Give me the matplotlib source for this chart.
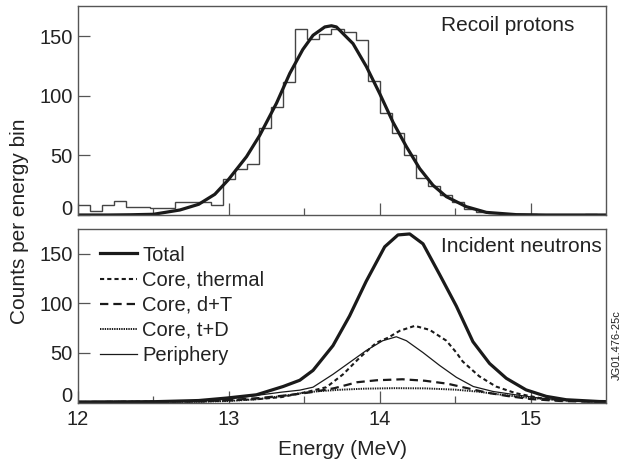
import numpy as np
import matplotlib
matplotlib.use("Agg")
import matplotlib.pyplot as plt

plt.rcParams['font.family'] = ['Liberation Sans', 'DejaVu Sans']
plt.rcParams['lines.scale_dashes'] = False

# ---------------- data ----------------
# Top panel: recoil proton histogram (bin width 0.08 MeV starting at 12.0 MeV)
hist_start = 12.0
hist_width = 0.08
hist_counts = [8.4, 3.6, 8.4, 11.8, 7, 7, 5.6, 5.6, 10.7, 10.7, 10.7, 8.4,
               30, 39, 42.6, 73.4, 91, 112, 156, 148, 152, 156, 153.5, 147,
               112.6, 86, 68.6, 50, 31, 24, 16.5, 10.7, 5, 2.5, 1.4, 1,
               0.7, 0.7, 0.4, 0.4, 0.2, 0.2, 0.5, 0.3]

fit_E = [12.0, 12.2, 12.35, 12.5, 12.675, 12.8, 12.907, 12.995, 13.117, 13.205,
         13.316, 13.404, 13.49, 13.558, 13.636, 13.68, 13.713, 13.823, 13.912,
         14.0, 14.088, 14.177, 14.265, 14.353, 14.442, 14.574, 14.707, 14.905,
         15.1, 15.5]
fit_v = [0, 0, 0.2, 0.6, 4.2, 9, 17.4, 29.4, 49, 67,
         94, 119, 139, 151, 158, 159, 158, 144, 124.6,
         102, 78, 57.4, 39, 25, 15.4, 7, 2.2, 0.3,
         0, 0]

# Bottom panel: incident neutron components
total_E = [12.0, 12.5, 12.8, 12.985, 13.183, 13.36, 13.47, 13.558, 13.69, 13.80,
           13.91, 14.033, 14.121, 14.199, 14.287, 14.397, 14.508, 14.618, 14.728,
           14.839, 14.97, 15.104, 15.236, 15.457, 15.5]
total_v = [0, 0.3, 1.5, 4, 7.3, 15.7, 22, 32, 57, 87,
           122, 157, 169, 170, 160, 129, 97, 61, 39,
           24, 12.3, 5.7, 2.3, 0.5, 0.4]

thermal_E = [12.0, 12.8, 13.0, 13.2, 13.35, 13.514, 13.647, 13.757, 13.868, 13.978,
             14.055, 14.132, 14.232, 14.331, 14.442, 14.508, 14.55, 14.66, 14.77,
             14.9, 15.06, 15.24, 15.4, 15.5]
thermal_v = [0, 0.5, 1.5, 3, 5, 10, 15, 28, 45, 60,
             65, 72, 77, 73, 62, 50, 41, 26, 15.7,
             9, 4, 1.7, 0.5, 0.3]

dT_E = [12.0, 12.8, 13.0, 13.2, 13.4, 13.55, 13.7, 13.85, 13.98, 14.15, 14.3,
        14.45, 14.58, 14.71, 14.85, 15.0, 15.2, 15.4, 15.5]
dT_v = [0, 0.5, 2, 4, 7, 10, 14, 20, 22, 23, 21.5,
        18.5, 14, 9.5, 6, 3, 1, 0.3, 0.2]

tD_E = [12.0, 12.8, 13.0, 13.2, 13.4, 13.5, 13.6, 13.75, 13.9, 14.1, 14.3,
        14.5, 14.65, 14.8, 15.0, 15.2, 15.4, 15.5]
tD_v = [0, 0.3, 1, 3, 7, 9.5, 11, 12.5, 13.5, 14, 13.8,
        12.5, 10.5, 7.5, 4, 1.7, 0.5, 0.3]

periph_E = [12.0, 12.8, 13.0, 13.1, 13.2, 13.35, 13.47, 13.558, 13.69, 13.80, 13.91,
            14.02, 14.11, 14.177, 14.287, 14.397, 14.508, 14.62, 14.75, 14.9,
            15.06, 15.24, 15.45, 15.5]
periph_v = [0, 1, 3, 5, 7, 10, 12, 15, 28, 40, 52,
            62, 66, 62, 50, 37, 25, 15.7, 10.7, 7.3,
            4, 1.7, 0.5, 0.4]

xticks = [12, 13, 14, 15]
yticks = [0, 50, 100, 150]
legend_labels = ['Total', 'Core, thermal', 'Core, d+T', 'Core, t+D', 'Periphery']

# ---------------- figure ----------------
W, H = 625, 469
fig = plt.figure(figsize=(W / 100, H / 100), dpi=100)
left, right = 78 / W, 606 / W
ax1 = fig.add_axes([left, 1 - 215 / H, right - left, (215 - 6) / H])
ax2 = fig.add_axes([left, 1 - 403 / H, right - left, (403 - 229) / H])

spine_col = '#555555'
text_col = '#222222'
fs = 14.5

edges = hist_start + hist_width * np.arange(len(hist_counts) + 1)
ax1.stairs(hist_counts, edges, baseline=None, color='#444444', lw=1.0)
ax1.plot(fit_E, fit_v, color='#1a1a1a', lw=2.3, solid_capstyle='round')

ax2.plot(total_E, total_v, color='#1a1a1a', lw=2.3, label=legend_labels[0])
ax2.plot(thermal_E, thermal_v, color='#1a1a1a', lw=1.5,
         linestyle=(0, (3.0, 2.2)), label=legend_labels[1])
ax2.plot(dT_E, dT_v, color='#1a1a1a', lw=1.6,
         linestyle=(0, (6.0, 3.6)), label=legend_labels[2])
ax2.plot(tD_E, tD_v, color='#1a1a1a', lw=1.4,
         linestyle=(0, (1.0, 0.7)), label=legend_labels[3])
ax2.plot(periph_E, periph_v, color='#1a1a1a', lw=0.9, label=legend_labels[4])

ax1.set_ylim(0, 175.6)
ax2.set_ylim(-1, 175)

for ax in (ax1, ax2):
    ax.set_xlim(12, 15.5)
    ax.set_xticks(xticks)
    ax.set_xticks([12.5, 13.5, 14.5], minor=True)
    ax.set_yticks(yticks)
    ax.tick_params(axis='both', which='major', direction='in', length=8.5,
                   width=0.9, color=spine_col, labelsize=fs, labelcolor=text_col)
    ax.tick_params(axis='x', which='minor', direction='in', length=5,
                   width=0.9, color=spine_col)
    ax.tick_params(axis='y', which='major', pad=4)
    ax.tick_params(axis='x', which='major', pad=5)
    for s in ax.spines.values():
        s.set_color(spine_col)
        s.set_linewidth(1.0)
    ax.yaxis.get_major_ticks()[0].label1.set_va('baseline')

ax1.tick_params(axis='x', labelbottom=False)

ax1.text(0.941, 0.909, 'Recoil protons', transform=ax1.transAxes, ha='right',
         va='center', fontsize=15, color=text_col)
ax2.text(0.992, 0.897, 'Incident neutrons', transform=ax2.transAxes, ha='right',
         va='center', fontsize=15, color=text_col)

leg = ax2.legend(loc='upper left', bbox_to_anchor=(0.042, 0.905), frameon=False,
                 fontsize=fs, handlelength=1.85, handletextpad=0.25,
                 labelspacing=0.30, borderpad=0, borderaxespad=0)
for t in leg.get_texts():
    t.set_color(text_col)

ax2.set_xlabel('Energy (MeV)', fontsize=15, color=text_col, labelpad=8)
fig.text(20 / W, 1 - 221 / H, 'Counts per energy bin', rotation=90,
         ha='center', va='center', fontsize=15, color=text_col)
fig.text(617 / W, 1 - 345 / H, 'JG01.476-25c', rotation=90, ha='center',
         va='center', fontsize=8, color=text_col)

fig.savefig('out.png', dpi=100)
